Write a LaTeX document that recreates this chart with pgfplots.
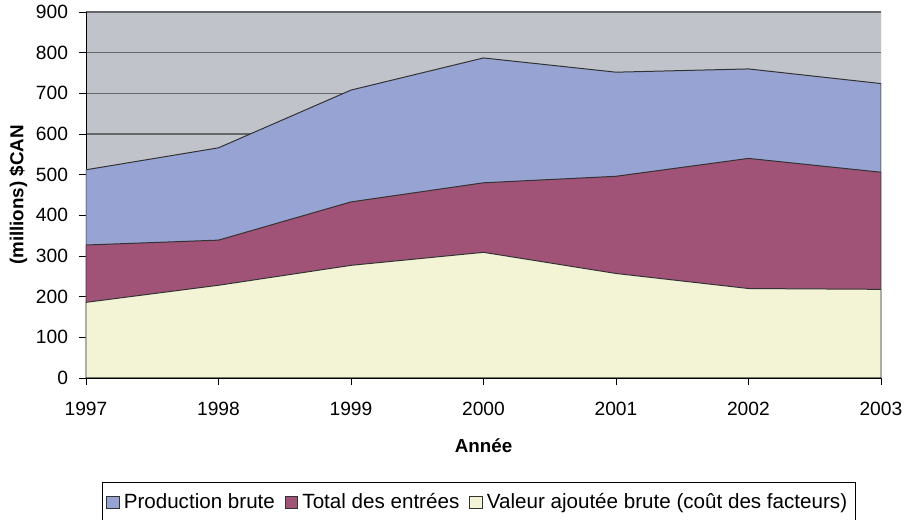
\documentclass[border=0pt]{standalone}
\usepackage{pgfplots}
\pgfplotsset{compat=1.18}
\usepackage{fontspec}
\setmainfont{Liberation Sans}
\definecolor{bgGray}{HTML}{C0C3CA}
\definecolor{prodBlue}{HTML}{97A3D2}
\definecolor{entMaroon}{HTML}{A05377}
\definecolor{valCream}{HTML}{F3F3D5}
\begin{document}
\begin{tikzpicture}
\begin{axis}[
  name=ax,
  scale only axis,
  width=397.5pt, height=183pt,
  xmin=1997, xmax=2003, ymin=0, ymax=900,
  xtick={1997,...,2003},
  ytick={0,100,...,900},
  xticklabel style={/pgf/number format/1000 sep={}, yshift=-5pt},
  yticklabel style={xshift=-2pt},
  /pgf/number format/assume math mode=true,
  tick label style={font=\fontsize{9.6}{11}\selectfont},
  tick align=outside,
  tick style={black, thin},
  major tick length=3.5pt,
  axis x line*=bottom, axis y line*=left,
  axis line style={black, thin, -},
  ymajorgrids,
  grid style={draw=black!60, line width=0.6pt},
  axis background/.style={fill=bgGray},
  xlabel={\textbf{Année}},
  ylabel={\textbf{(millions) \$CAN}},
  label style={font=\fontsize{9.4}{11}\selectfont},
  xlabel style={yshift=-4.5pt},
  ylabel style={yshift=-2.5pt},
  legend columns=3,
  legend style={at={(0.494,-0.284)}, anchor=north, draw=black, thin,
    font=\fontsize{10.3}{12}\selectfont, inner xsep=2pt, inner ysep=3.5pt,
    /tikz/every even column/.append style={column sep=3pt}},
  legend cell align=left,
  area legend,
  legend image code/.code={\draw[#1, draw=black!80] (0cm,-0.11cm) rectangle (0.22cm,0.11cm);},
]
\addplot[fill=prodBlue, draw=black!80, line width=0.5pt] coordinates {
 (1997,512) (1998,566) (1999,708) (2000,787) (2001,752) (2002,760) (2003,724)} \closedcycle;
\addlegendentry{Production brute}
\addplot[fill=entMaroon, draw=black!80, line width=0.5pt] coordinates {
 (1997,327) (1998,339) (1999,433) (2000,480) (2001,496) (2002,540) (2003,506)} \closedcycle;
\addlegendentry{Total des entrées}
\addplot[fill=valCream, draw=black!80, line width=0.5pt] coordinates {
 (1997,186) (1998,228) (1999,277) (2000,309) (2001,257) (2002,220) (2003,218)} \closedcycle;
\addlegendentry{Valeur ajoutée brute (coût des facteurs)}
\draw[black!45, thin] (axis cs:2003,0) -- (axis cs:2003,900);
\end{axis}
\pgfresetboundingbox
\path (ax.south west) ++(-43pt,-71pt) coordinate (bl);
\path (ax.north east) ++(16.5pt,6pt) coordinate (tr);
\path[use as bounding box] (bl) rectangle (tr);
\end{tikzpicture}
\end{document}
